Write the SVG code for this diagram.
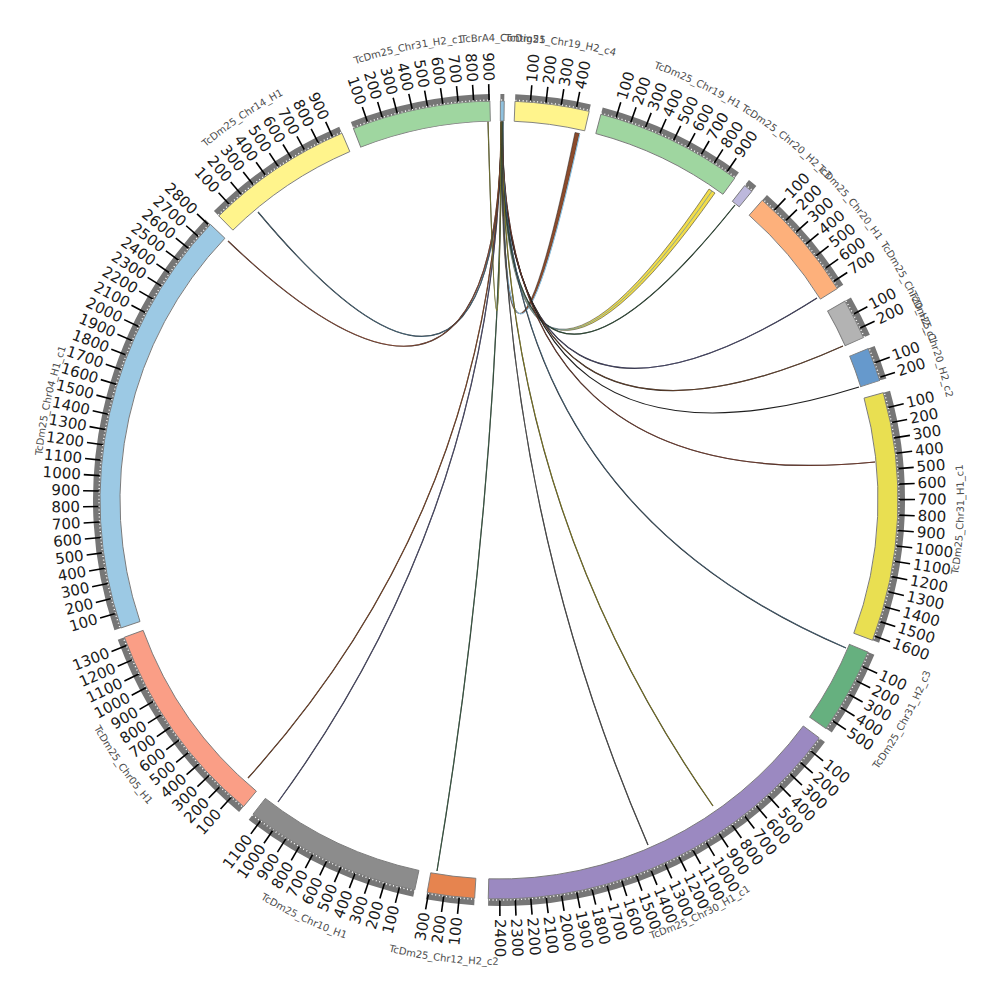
<svg xmlns="http://www.w3.org/2000/svg" xmlns:xlink="http://www.w3.org/1999/xlink" width="1000" height="1000" viewBox="0 0 1000 1000">
<style>
.nm{font-family:"DejaVu Sans",sans-serif;font-size:10px;fill:#4d4d4d;text-anchor:middle}
.R,.L{font-family:"DejaVu Sans",sans-serif;font-size:15px;fill:#1a1a1a;dominant-baseline:central}
.L{text-anchor:end}
.gb{fill:none;stroke:#767676;stroke-width:7}
.bd{stroke:#7a7a7a;stroke-width:0.9}
.lk{fill:none;stroke:#1e1e1e;stroke-width:1.2}
.lc{fill:none;stroke-width:0.6}
</style>
<defs>
<line id="tk" x1="0" y1="-400" x2="0" y2="-416" stroke="#000" stroke-width="1.6"/>
<path id="pt" d="M40,500 A459,459 0 0 1 958,500 A459,459 0 0 1 40,500"/>
<path id="pb" d="M34,500 A465,465 0 0 0 964,500 A465,465 0 0 0 34,500"/>
</defs>
<rect width="1000" height="1000" fill="#fff"/>

<g id="connectors">
<path d="M501.8,121.5 Q499,500 258,212" class="lk"/><path d="M501.8,121.5 Q499,500 258,212" class="lc" stroke="#5a8fae"/>
<path d="M501.5,121.5 Q499,500 228,241" class="lk"/><path d="M501.5,121.5 Q499,500 228,241" class="lc" stroke="#c0603f"/>
<path d="M501.8,121.5 Q499,500 575,132.5 L579.5,133.5 Q499,500 503.2,121.5 Z" fill="#8b4b2c" stroke="#222" stroke-width="0.5"/>
<path d="M503,121.5 Q499,500 579.8,134" fill="none" stroke="#8cc4e6" stroke-width="1"/>
<path d="M502,121.5 Q499,500 709,189 L715,193 Q499,500 503,121.5 Z" fill="#f2dc4a" stroke="#222" stroke-width="0.5"/>
<path d="M502.5,121.5 Q499,500 712,191" fill="none" stroke="#5b8db5" stroke-width="0.7"/>
<path d="M502.2,121.5 Q499,500 735,205" class="lk"/><path d="M502.2,121.5 Q499,500 735,205" class="lc" stroke="#3a6e4a"/>
<path d="M502.6,121.5 Q499,500 817,298" class="lk"/><path d="M502.6,121.5 Q499,500 817,298" class="lc" stroke="#5c5c96"/>
<path d="M502,121.5 Q499,500 843,346" class="lk"/><path d="M502,121.5 Q499,500 843,346" class="lc" stroke="#8b5430"/>
<path d="M501.6,121.5 Q499,500 859,387" class="lk"/>
<path d="M502.4,121.5 Q499,500 875,462" class="lk"/><path d="M502.4,121.5 Q499,500 875,462" class="lc" stroke="#a04a34"/>
<path d="M501.9,121.5 Q499,500 846,648" class="lk"/><path d="M501.9,121.5 Q499,500 846,648" class="lc" stroke="#5a88aa"/>
<path d="M502.1,121.5 Q499,500 713,806" class="lk"/><path d="M502.1,121.5 Q499,500 713,806" class="lc" stroke="#b8ae22"/>
<path d="M501.7,121.5 Q499,500 648,845" class="lk"/><path d="M501.7,121.5 Q499,500 648,845" class="lc" stroke="#6a6a6a"/>
<path d="M502.3,121.5 Q499,500 437,871" class="lk"/><path d="M502.3,121.5 Q499,500 437,871" class="lc" stroke="#4a805a"/>
<path d="M501.4,121.5 Q499,500 278,802" class="lk"/><path d="M501.4,121.5 Q499,500 278,802" class="lc" stroke="#6a6aa0"/>
<path d="M501.2,121.5 Q499,500 248,778" class="lk"/><path d="M501.2,121.5 Q499,500 248,778" class="lc" stroke="#b8602e"/>
<path d="M488,121.5 Q499,500 501,121.5" class="lk" stroke="#55552a"/><path d="M488,121.5 Q499,500 501,121.5" class="lc" stroke="#a8a840"/>
</g>

<g id="TcBrA4_Contig51">
<g transform="translate(499 500) rotate(0.2)">
<path class="gb" d="M0,-402.5A402.5,402.5 0 0 1 3.899,-402.48"/>
<path class="bd" fill="#8fc1de" d="M0,-399A399,399 0 0 1 3.865,-398.98L3.671,-378.98A379,379 0 0 0 0,-379Z"/>
</g>
<text class="nm"><textPath href="#pt" startOffset="724.8">TcBrA4_Contig51</textPath></text>
</g>

<g id="TcDm25_Chr19_H2_c4">
<g transform="translate(499 500) rotate(2.3)">
<path class="gb" d="M0,-402.5A402.5,402.5 0 0 1 75.19,-395.41"/>
<path class="bd" fill="#fff48c" d="M0,-399A399,399 0 0 1 74.54,-391.98L70.8,-372.33A379,379 0 0 0 0,-379Z"/>
<g transform="rotate(2.22)"><use href="#tk"/><text class="R" transform="translate(0 -419) rotate(-90)">100</text></g>
<g transform="rotate(4.44)"><use href="#tk"/><text class="R" transform="translate(0 -419) rotate(-90)">200</text></g>
<g transform="rotate(6.66)"><use href="#tk"/><text class="R" transform="translate(0 -419) rotate(-90)">300</text></g>
<g transform="rotate(8.88)"><use href="#tk"/><text class="R" transform="translate(0 -419) rotate(-90)">400</text></g>
</g>
<text class="nm"><textPath href="#pt" startOffset="782.5">TcDm25_Chr19_H2_c4</textPath></text>
</g>

<g id="TcDm25_Chr19_H1">
<g transform="translate(499 500) rotate(14.8)">
<path class="gb" d="M0,-402.5A402.5,402.5 0 0 1 147.01,-374.69"/>
<path class="bd" fill="#9fd6a0" d="M0,-399A399,399 0 0 1 145.74,-371.43L138.43,-352.81A379,379 0 0 0 0,-379Z"/>
<g transform="rotate(2.22)"><use href="#tk"/><text class="R" transform="translate(0 -419) rotate(-90)">100</text></g>
<g transform="rotate(4.44)"><use href="#tk"/><text class="R" transform="translate(0 -419) rotate(-90)">200</text></g>
<g transform="rotate(6.66)"><use href="#tk"/><text class="R" transform="translate(0 -419) rotate(-90)">300</text></g>
<g transform="rotate(8.88)"><use href="#tk"/><text class="R" transform="translate(0 -419) rotate(-90)">400</text></g>
<g transform="rotate(11.1)"><use href="#tk"/><text class="R" transform="translate(0 -419) rotate(-90)">500</text></g>
<g transform="rotate(13.32)"><use href="#tk"/><text class="R" transform="translate(0 -419) rotate(-90)">600</text></g>
<g transform="rotate(15.54)"><use href="#tk"/><text class="R" transform="translate(0 -419) rotate(-90)">700</text></g>
<g transform="rotate(17.76)"><use href="#tk"/><text class="R" transform="translate(0 -419) rotate(-90)">800</text></g>
<g transform="rotate(19.98)"><use href="#tk"/><text class="R" transform="translate(0 -419) rotate(-90)">900</text></g>
</g>
<text class="nm"><textPath href="#pt" startOffset="925.4">TcDm25_Chr19_H1</textPath></text>
</g>

<g id="TcDm25_Chr20_H2_c3">
<g transform="translate(499 500) rotate(38)">
<path class="gb" d="M0,-402.5A402.5,402.5 0 0 1 9.357,-402.39"/>
<path class="bd" fill="#bdb8dc" d="M0,-399A399,399 0 0 1 9.275,-398.89L8.81,-378.9A379,379 0 0 0 0,-379Z"/>
</g>
<text class="nm"><textPath href="#pt" startOffset="1030.8">TcDm25_Chr20_H2_c3</textPath></text>
</g>

<g id="TcDm25_Chr20_H1">
<g transform="translate(499 500) rotate(41.3)">
<path class="gb" d="M0,-402.5A402.5,402.5 0 0 1 115.62,-385.54"/>
<path class="bd" fill="#fdb07b" d="M0,-399A399,399 0 0 1 114.62,-382.18L108.87,-363.03A379,379 0 0 0 0,-379Z"/>
<g transform="rotate(2.22)"><use href="#tk"/><text class="R" transform="translate(0 -419) rotate(-90)">100</text></g>
<g transform="rotate(4.44)"><use href="#tk"/><text class="R" transform="translate(0 -419) rotate(-90)">200</text></g>
<g transform="rotate(6.66)"><use href="#tk"/><text class="R" transform="translate(0 -419) rotate(-90)">300</text></g>
<g transform="rotate(8.88)"><use href="#tk"/><text class="R" transform="translate(0 -419) rotate(-90)">400</text></g>
<g transform="rotate(11.1)"><use href="#tk"/><text class="R" transform="translate(0 -419) rotate(-90)">500</text></g>
<g transform="rotate(13.32)"><use href="#tk"/><text class="R" transform="translate(0 -419) rotate(-90)">600</text></g>
<g transform="rotate(15.54)"><use href="#tk"/><text class="R" transform="translate(0 -419) rotate(-90)">700</text></g>
</g>
<text class="nm"><textPath href="#pt" startOffset="1118.7">TcDm25_Chr20_H1</textPath></text>
</g>

<g id="TcDm25_Chr20_H2_c1">
<g transform="translate(499 500) rotate(60.1)">
<path class="gb" d="M0,-402.5A402.5,402.5 0 0 1 41.26,-400.38"/>
<path class="bd" fill="#b3b3b3" d="M0,-399A399,399 0 0 1 40.9,-396.9L38.85,-377A379,379 0 0 0 0,-379Z"/>
<g transform="rotate(2.22)"><use href="#tk"/><text class="R" transform="translate(0 -419) rotate(-90)">100</text></g>
<g transform="rotate(4.44)"><use href="#tk"/><text class="R" transform="translate(0 -419) rotate(-90)">200</text></g>
</g>
<text class="nm"><textPath href="#pt" startOffset="1226">TcDm25_Chr20_H2_c1</textPath></text>
</g>

<g id="TcDm25_Chr20_H2_c2">
<g transform="translate(499 500) rotate(67.7)">
<path class="gb" d="M0,-402.5A402.5,402.5 0 0 1 34.27,-401.04"/>
<path class="bd" fill="#6699cc" d="M0,-399A399,399 0 0 1 33.97,-397.55L32.27,-377.62A379,379 0 0 0 0,-379Z"/>
<g transform="rotate(2.22)"><use href="#tk"/><text class="R" transform="translate(0 -419) rotate(-90)">100</text></g>
<g transform="rotate(4.44)"><use href="#tk"/><text class="R" transform="translate(0 -419) rotate(-90)">200</text></g>
</g>
<text class="nm"><textPath href="#pt" startOffset="1282.9">TcDm25_Chr20_H2_c2</textPath></text>
</g>

<g id="TcDm25_Chr31_H1_c1">
<g transform="translate(499 500) rotate(74.4)">
<path class="gb" d="M0,-402.5A402.5,402.5 0 0 1 237.64,-324.86"/>
<path class="bd" fill="#e9df51" d="M0,-399A399,399 0 0 1 235.57,-322.03L223.76,-305.89A379,379 0 0 0 0,-379Z"/>
<g transform="rotate(2.22)"><use href="#tk"/><text class="R" transform="translate(0 -419) rotate(-90)">100</text></g>
<g transform="rotate(4.44)"><use href="#tk"/><text class="R" transform="translate(0 -419) rotate(-90)">200</text></g>
<g transform="rotate(6.66)"><use href="#tk"/><text class="R" transform="translate(0 -419) rotate(-90)">300</text></g>
<g transform="rotate(8.88)"><use href="#tk"/><text class="R" transform="translate(0 -419) rotate(-90)">400</text></g>
<g transform="rotate(11.1)"><use href="#tk"/><text class="R" transform="translate(0 -419) rotate(-90)">500</text></g>
<g transform="rotate(13.32)"><use href="#tk"/><text class="R" transform="translate(0 -419) rotate(-90)">600</text></g>
<g transform="rotate(15.54)"><use href="#tk"/><text class="R" transform="translate(0 -419) rotate(-90)">700</text></g>
<g transform="rotate(17.76)"><use href="#tk"/><text class="R" transform="translate(0 -419) rotate(-90)">800</text></g>
<g transform="rotate(19.98)"><use href="#tk"/><text class="R" transform="translate(0 -419) rotate(-90)">900</text></g>
<g transform="rotate(22.2)"><use href="#tk"/><text class="R" transform="translate(0 -419) rotate(-90)">1000</text></g>
<g transform="rotate(24.42)"><use href="#tk"/><text class="R" transform="translate(0 -419) rotate(-90)">1100</text></g>
<g transform="rotate(26.64)"><use href="#tk"/><text class="R" transform="translate(0 -419) rotate(-90)">1200</text></g>
<g transform="rotate(28.86)"><use href="#tk"/><text class="R" transform="translate(0 -419) rotate(-90)">1300</text></g>
<g transform="rotate(31.08)"><use href="#tk"/><text class="R" transform="translate(0 -419) rotate(-90)">1400</text></g>
<g transform="rotate(33.3)"><use href="#tk"/><text class="R" transform="translate(0 -419) rotate(-90)">1500</text></g>
<g transform="rotate(35.52)"><use href="#tk"/><text class="R" transform="translate(0 -419) rotate(-90)">1600</text></g>
</g>
<text class="nm"><textPath href="#pb" startOffset="1440.6">TcDm25_Chr31_H1_c1</textPath></text>
</g>

<g id="TcDm25_Chr31_H2_c3">
<g transform="translate(499 500) rotate(112.4)">
<path class="gb" d="M0,-402.5A402.5,402.5 0 0 1 87.41,-392.89"/>
<path class="bd" fill="#66b07f" d="M0,-399A399,399 0 0 1 86.65,-389.48L82.31,-369.95A379,379 0 0 0 0,-379Z"/>
<g transform="rotate(2.22)"><use href="#tk"/><text class="R" transform="translate(0 -419) rotate(-90)">100</text></g>
<g transform="rotate(4.44)"><use href="#tk"/><text class="R" transform="translate(0 -419) rotate(-90)">200</text></g>
<g transform="rotate(6.66)"><use href="#tk"/><text class="R" transform="translate(0 -419) rotate(-90)">300</text></g>
<g transform="rotate(8.88)"><use href="#tk"/><text class="R" transform="translate(0 -419) rotate(-90)">400</text></g>
<g transform="rotate(11.1)"><use href="#tk"/><text class="R" transform="translate(0 -419) rotate(-90)">500</text></g>
</g>
<text class="nm"><textPath href="#pb" startOffset="1228.2">TcDm25_Chr31_H2_c3</textPath></text>
</g>

<g id="TcDm25_Chr30_H1_c1">
<g transform="translate(499 500) rotate(126.6)">
<path class="gb" d="M0,-402.5A402.5,402.5 0 0 1 329.49,-231.18"/>
<path class="bd" fill="#9b89c1" d="M0,-399A399,399 0 0 1 326.62,-229.17L310.25,-217.68A379,379 0 0 0 0,-379Z"/>
<g transform="rotate(2.22)"><use href="#tk"/><text class="R" transform="translate(0 -419) rotate(-90)">100</text></g>
<g transform="rotate(4.44)"><use href="#tk"/><text class="R" transform="translate(0 -419) rotate(-90)">200</text></g>
<g transform="rotate(6.66)"><use href="#tk"/><text class="R" transform="translate(0 -419) rotate(-90)">300</text></g>
<g transform="rotate(8.88)"><use href="#tk"/><text class="R" transform="translate(0 -419) rotate(-90)">400</text></g>
<g transform="rotate(11.1)"><use href="#tk"/><text class="R" transform="translate(0 -419) rotate(-90)">500</text></g>
<g transform="rotate(13.32)"><use href="#tk"/><text class="R" transform="translate(0 -419) rotate(-90)">600</text></g>
<g transform="rotate(15.54)"><use href="#tk"/><text class="R" transform="translate(0 -419) rotate(-90)">700</text></g>
<g transform="rotate(17.76)"><use href="#tk"/><text class="R" transform="translate(0 -419) rotate(-90)">800</text></g>
<g transform="rotate(19.98)"><use href="#tk"/><text class="R" transform="translate(0 -419) rotate(-90)">900</text></g>
<g transform="rotate(22.2)"><use href="#tk"/><text class="R" transform="translate(0 -419) rotate(-90)">1000</text></g>
<g transform="rotate(24.42)"><use href="#tk"/><text class="R" transform="translate(0 -419) rotate(-90)">1100</text></g>
<g transform="rotate(26.64)"><use href="#tk"/><text class="R" transform="translate(0 -419) rotate(-90)">1200</text></g>
<g transform="rotate(28.86)"><use href="#tk"/><text class="R" transform="translate(0 -419) rotate(-90)">1300</text></g>
<g transform="rotate(31.08)"><use href="#tk"/><text class="R" transform="translate(0 -419) rotate(-90)">1400</text></g>
<g transform="rotate(33.3)"><use href="#tk"/><text class="R" transform="translate(0 -419) rotate(-90)">1500</text></g>
<g transform="rotate(35.52)"><use href="#tk"/><text class="R" transform="translate(0 -419) rotate(-90)">1600</text></g>
<g transform="rotate(37.74)"><use href="#tk"/><text class="R" transform="translate(0 -419) rotate(-90)">1700</text></g>
<g transform="rotate(39.96)"><use href="#tk"/><text class="R" transform="translate(0 -419) rotate(-90)">1800</text></g>
<g transform="rotate(42.18)"><use href="#tk"/><text class="R" transform="translate(0 -419) rotate(-90)">1900</text></g>
<g transform="rotate(44.4)"><use href="#tk"/><text class="R" transform="translate(0 -419) rotate(-90)">2000</text></g>
<g transform="rotate(46.62)"><use href="#tk"/><text class="R" transform="translate(0 -419) rotate(-90)">2100</text></g>
<g transform="rotate(48.84)"><use href="#tk"/><text class="R" transform="translate(0 -419) rotate(-90)">2200</text></g>
<g transform="rotate(51.06)"><use href="#tk"/><text class="R" transform="translate(0 -419) rotate(-90)">2300</text></g>
<g transform="rotate(53.28)"><use href="#tk"/><text class="R" transform="translate(0 -419) rotate(-90)">2400</text></g>
</g>
<text class="nm"><textPath href="#pb" startOffset="940.8">TcDm25_Chr30_H1_c1</textPath></text>
</g>

<g id="TcDm25_Chr12_H2_c2">
<g transform="translate(499 500) rotate(183.5)">
<path class="gb" d="M0,-402.5A402.5,402.5 0 0 1 48.23,-399.6"/>
<path class="bd" fill="#e6844f" d="M0,-399A399,399 0 0 1 47.81,-396.13L45.41,-376.27A379,379 0 0 0 0,-379Z"/>
<g transform="rotate(2.22)"><use href="#tk"/><text class="L" transform="translate(0 -419) rotate(90)">100</text></g>
<g transform="rotate(4.44)"><use href="#tk"/><text class="L" transform="translate(0 -419) rotate(90)">200</text></g>
<g transform="rotate(6.66)"><use href="#tk"/><text class="L" transform="translate(0 -419) rotate(90)">300</text></g>
</g>
<text class="nm"><textPath href="#pb" startOffset="674.1">TcDm25_Chr12_H2_c2</textPath></text>
</g>

<g id="TcDm25_Chr10_H1">
<g transform="translate(499 500) rotate(192.2)">
<path class="gb" d="M0,-402.5A402.5,402.5 0 0 1 175.58,-362.19"/>
<path class="bd" fill="#8c8c8c" d="M0,-399A399,399 0 0 1 174.05,-359.04L165.33,-341.04A379,379 0 0 0 0,-379Z"/>
<g transform="rotate(2.22)"><use href="#tk"/><text class="L" transform="translate(0 -419) rotate(90)">100</text></g>
<g transform="rotate(4.44)"><use href="#tk"/><text class="L" transform="translate(0 -419) rotate(90)">200</text></g>
<g transform="rotate(6.66)"><use href="#tk"/><text class="L" transform="translate(0 -419) rotate(90)">300</text></g>
<g transform="rotate(8.88)"><use href="#tk"/><text class="L" transform="translate(0 -419) rotate(90)">400</text></g>
<g transform="rotate(11.1)"><use href="#tk"/><text class="L" transform="translate(0 -419) rotate(90)">500</text></g>
<g transform="rotate(13.32)"><use href="#tk"/><text class="L" transform="translate(0 -419) rotate(90)">600</text></g>
<g transform="rotate(15.54)"><use href="#tk"/><text class="L" transform="translate(0 -419) rotate(90)">700</text></g>
<g transform="rotate(17.76)"><use href="#tk"/><text class="L" transform="translate(0 -419) rotate(90)">800</text></g>
<g transform="rotate(19.98)"><use href="#tk"/><text class="L" transform="translate(0 -419) rotate(90)">900</text></g>
<g transform="rotate(22.2)"><use href="#tk"/><text class="L" transform="translate(0 -419) rotate(90)">1000</text></g>
<g transform="rotate(24.42)"><use href="#tk"/><text class="L" transform="translate(0 -419) rotate(90)">1100</text></g>
</g>
<text class="nm"><textPath href="#pb" startOffset="526.5">TcDm25_Chr10_H1</textPath></text>
</g>

<g id="TcDm25_Chr05_H1">
<g transform="translate(499 500) rotate(219.8)">
<path class="gb" d="M0,-402.5A402.5,402.5 0 0 1 201.74,-348.29"/>
<path class="bd" fill="#fa9e86" d="M0,-399A399,399 0 0 1 199.99,-345.26L189.96,-327.96A379,379 0 0 0 0,-379Z"/>
<g transform="rotate(2.22)"><use href="#tk"/><text class="L" transform="translate(0 -419) rotate(90)">100</text></g>
<g transform="rotate(4.44)"><use href="#tk"/><text class="L" transform="translate(0 -419) rotate(90)">200</text></g>
<g transform="rotate(6.66)"><use href="#tk"/><text class="L" transform="translate(0 -419) rotate(90)">300</text></g>
<g transform="rotate(8.88)"><use href="#tk"/><text class="L" transform="translate(0 -419) rotate(90)">400</text></g>
<g transform="rotate(11.1)"><use href="#tk"/><text class="L" transform="translate(0 -419) rotate(90)">500</text></g>
<g transform="rotate(13.32)"><use href="#tk"/><text class="L" transform="translate(0 -419) rotate(90)">600</text></g>
<g transform="rotate(15.54)"><use href="#tk"/><text class="L" transform="translate(0 -419) rotate(90)">700</text></g>
<g transform="rotate(17.76)"><use href="#tk"/><text class="L" transform="translate(0 -419) rotate(90)">800</text></g>
<g transform="rotate(19.98)"><use href="#tk"/><text class="L" transform="translate(0 -419) rotate(90)">900</text></g>
<g transform="rotate(22.2)"><use href="#tk"/><text class="L" transform="translate(0 -419) rotate(90)">1000</text></g>
<g transform="rotate(24.42)"><use href="#tk"/><text class="L" transform="translate(0 -419) rotate(90)">1100</text></g>
<g transform="rotate(26.64)"><use href="#tk"/><text class="L" transform="translate(0 -419) rotate(90)">1200</text></g>
<g transform="rotate(28.86)"><use href="#tk"/><text class="L" transform="translate(0 -419) rotate(90)">1300</text></g>
</g>
<text class="nm"><textPath href="#pb" startOffset="285.4">TcDm25_Chr05_H1</textPath></text>
</g>

<g id="TcDm25_Chr04_H1_c1">
<g transform="translate(499 500) rotate(251.3)">
<path class="gb" d="M0,-402.5A402.5,402.5 0 0 1 356.64,-186.59"/>
<path class="bd" fill="#9cc9e4" d="M0,-399A399,399 0 0 1 353.54,-184.97L335.82,-175.7A379,379 0 0 0 0,-379Z"/>
<g transform="rotate(2.22)"><use href="#tk"/><text class="L" transform="translate(0 -419) rotate(90)">100</text></g>
<g transform="rotate(4.44)"><use href="#tk"/><text class="L" transform="translate(0 -419) rotate(90)">200</text></g>
<g transform="rotate(6.66)"><use href="#tk"/><text class="L" transform="translate(0 -419) rotate(90)">300</text></g>
<g transform="rotate(8.88)"><use href="#tk"/><text class="L" transform="translate(0 -419) rotate(90)">400</text></g>
<g transform="rotate(11.1)"><use href="#tk"/><text class="L" transform="translate(0 -419) rotate(90)">500</text></g>
<g transform="rotate(13.32)"><use href="#tk"/><text class="L" transform="translate(0 -419) rotate(90)">600</text></g>
<g transform="rotate(15.54)"><use href="#tk"/><text class="L" transform="translate(0 -419) rotate(90)">700</text></g>
<g transform="rotate(17.76)"><use href="#tk"/><text class="L" transform="translate(0 -419) rotate(90)">800</text></g>
<g transform="rotate(19.98)"><use href="#tk"/><text class="L" transform="translate(0 -419) rotate(90)">900</text></g>
<g transform="rotate(22.2)"><use href="#tk"/><text class="L" transform="translate(0 -419) rotate(90)">1000</text></g>
<g transform="rotate(24.42)"><use href="#tk"/><text class="L" transform="translate(0 -419) rotate(90)">1100</text></g>
<g transform="rotate(26.64)"><use href="#tk"/><text class="L" transform="translate(0 -419) rotate(90)">1200</text></g>
<g transform="rotate(28.86)"><use href="#tk"/><text class="L" transform="translate(0 -419) rotate(90)">1300</text></g>
<g transform="rotate(31.08)"><use href="#tk"/><text class="L" transform="translate(0 -419) rotate(90)">1400</text></g>
<g transform="rotate(33.3)"><use href="#tk"/><text class="L" transform="translate(0 -419) rotate(90)">1500</text></g>
<g transform="rotate(35.52)"><use href="#tk"/><text class="L" transform="translate(0 -419) rotate(90)">1600</text></g>
<g transform="rotate(37.74)"><use href="#tk"/><text class="L" transform="translate(0 -419) rotate(90)">1700</text></g>
<g transform="rotate(39.96)"><use href="#tk"/><text class="L" transform="translate(0 -419) rotate(90)">1800</text></g>
<g transform="rotate(42.18)"><use href="#tk"/><text class="L" transform="translate(0 -419) rotate(90)">1900</text></g>
<g transform="rotate(44.4)"><use href="#tk"/><text class="L" transform="translate(0 -419) rotate(90)">2000</text></g>
<g transform="rotate(46.62)"><use href="#tk"/><text class="L" transform="translate(0 -419) rotate(90)">2100</text></g>
<g transform="rotate(48.84)"><use href="#tk"/><text class="L" transform="translate(0 -419) rotate(90)">2200</text></g>
<g transform="rotate(51.06)"><use href="#tk"/><text class="L" transform="translate(0 -419) rotate(90)">2300</text></g>
<g transform="rotate(53.28)"><use href="#tk"/><text class="L" transform="translate(0 -419) rotate(90)">2400</text></g>
<g transform="rotate(55.5)"><use href="#tk"/><text class="L" transform="translate(0 -419) rotate(90)">2500</text></g>
<g transform="rotate(57.72)"><use href="#tk"/><text class="L" transform="translate(0 -419) rotate(90)">2600</text></g>
<g transform="rotate(59.94)"><use href="#tk"/><text class="L" transform="translate(0 -419) rotate(90)">2700</text></g>
<g transform="rotate(62.16)"><use href="#tk"/><text class="L" transform="translate(0 -419) rotate(90)">2800</text></g>
</g>
<text class="nm"><textPath href="#pt" startOffset="100.1">TcDm25_Chr04_H1_c1</textPath></text>
</g>

<g id="TcDm25_Chr14_H1">
<g transform="translate(499 500) rotate(315.4)">
<path class="gb" d="M0,-402.5A402.5,402.5 0 0 1 147.01,-374.69"/>
<path class="bd" fill="#fff48c" d="M0,-399A399,399 0 0 1 145.74,-371.43L138.43,-352.81A379,379 0 0 0 0,-379Z"/>
<g transform="rotate(2.22)"><use href="#tk"/><text class="L" transform="translate(0 -419) rotate(90)">100</text></g>
<g transform="rotate(4.44)"><use href="#tk"/><text class="L" transform="translate(0 -419) rotate(90)">200</text></g>
<g transform="rotate(6.66)"><use href="#tk"/><text class="L" transform="translate(0 -419) rotate(90)">300</text></g>
<g transform="rotate(8.88)"><use href="#tk"/><text class="L" transform="translate(0 -419) rotate(90)">400</text></g>
<g transform="rotate(11.1)"><use href="#tk"/><text class="L" transform="translate(0 -419) rotate(90)">500</text></g>
<g transform="rotate(13.32)"><use href="#tk"/><text class="L" transform="translate(0 -419) rotate(90)">600</text></g>
<g transform="rotate(15.54)"><use href="#tk"/><text class="L" transform="translate(0 -419) rotate(90)">700</text></g>
<g transform="rotate(17.76)"><use href="#tk"/><text class="L" transform="translate(0 -419) rotate(90)">800</text></g>
<g transform="rotate(19.98)"><use href="#tk"/><text class="L" transform="translate(0 -419) rotate(90)">900</text></g>
</g>
<text class="nm"><textPath href="#pt" startOffset="449.5">TcDm25_Chr14_H1</textPath></text>
</g>

<g id="TcDm25_Chr31_H2_c1">
<g transform="translate(499 500) rotate(338.6)">
<path class="gb" d="M0,-402.5A402.5,402.5 0 0 1 138.26,-378.01"/>
<path class="bd" fill="#9fd6a0" d="M0,-399A399,399 0 0 1 137.06,-374.72L130.19,-355.94A379,379 0 0 0 0,-379Z"/>
<g transform="rotate(2.22)"><use href="#tk"/><text class="L" transform="translate(0 -419) rotate(90)">100</text></g>
<g transform="rotate(4.44)"><use href="#tk"/><text class="L" transform="translate(0 -419) rotate(90)">200</text></g>
<g transform="rotate(6.66)"><use href="#tk"/><text class="L" transform="translate(0 -419) rotate(90)">300</text></g>
<g transform="rotate(8.88)"><use href="#tk"/><text class="L" transform="translate(0 -419) rotate(90)">400</text></g>
<g transform="rotate(11.1)"><use href="#tk"/><text class="L" transform="translate(0 -419) rotate(90)">500</text></g>
<g transform="rotate(13.32)"><use href="#tk"/><text class="L" transform="translate(0 -419) rotate(90)">600</text></g>
<g transform="rotate(15.54)"><use href="#tk"/><text class="L" transform="translate(0 -419) rotate(90)">700</text></g>
<g transform="rotate(17.76)"><use href="#tk"/><text class="L" transform="translate(0 -419) rotate(90)">800</text></g>
<g transform="rotate(19.98)"><use href="#tk"/><text class="L" transform="translate(0 -419) rotate(90)">900</text></g>
</g>
<text class="nm"><textPath href="#pt" startOffset="630.1">TcDm25_Chr31_H2_c1</textPath></text>
</g>

<circle cx="499" cy="500" r="400" fill="none" stroke="#fff" stroke-width="1.4" stroke-dasharray="1 2.6"/>
</svg>
